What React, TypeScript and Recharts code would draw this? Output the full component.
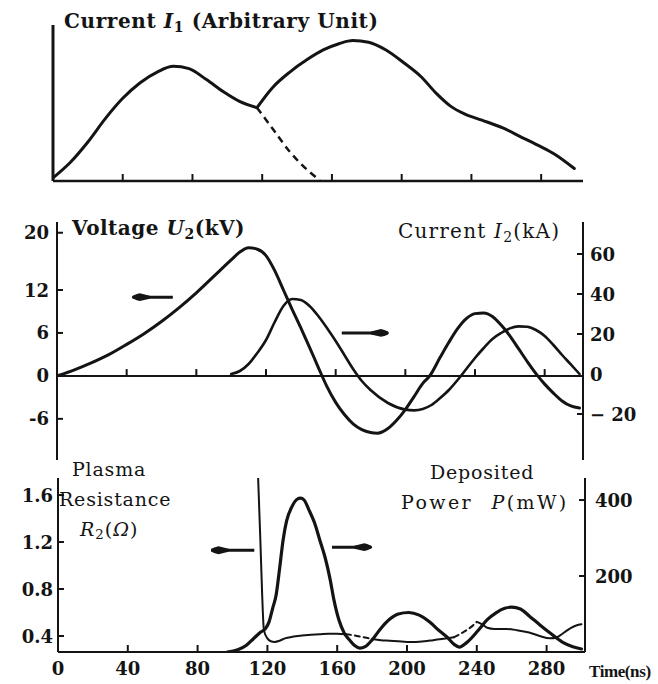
import React from 'react';
import { LineChart, Line, XAxis, YAxis, ReferenceLine } from 'recharts';

const INK = '#141414';
const SERIF = '"DejaVu Serif", "Liberation Serif", serif';

// shared time ticks (ns)
const timeTicks = [40, 80, 120, 160, 200, 240, 280];
const timeLabels = [0, 40, 80, 120, 160, 200, 240, 280];

// top panel: current I1, arbitrary unit
const i1FirstTime = [0, 10, 20, 30, 40, 50, 60, 69, 78, 88, 98, 107, 117];
const i1FirstValue = [0.2, 1.2, 2.5, 4.0, 5.3, 6.3, 7.0, 7.35, 7.2, 6.5, 5.7, 5.1, 4.7];
const i1TailTime = [117, 126, 136, 146, 153];
const i1TailValue = [4.7, 3.35, 1.85, 0.7, 0.05];
const i1SecondTime = [117, 126, 136, 146, 155, 164, 172, 181, 191, 201, 211, 220, 228, 236, 246, 258, 268, 278, 288, 299];
const i1SecondValue = [4.7, 6.0, 7.0, 7.8, 8.4, 8.8, 9.0, 8.9, 8.4, 7.6, 6.7, 5.6, 4.8, 4.3, 3.9, 3.4, 2.85, 2.3, 1.7, 0.8];

// middle panel: voltage U2 (kV) and current I2 (kA)
const u2Time = [0, 10, 20, 30, 40, 50, 60, 70, 80, 90, 100, 105, 110, 115, 120, 125, 130, 135, 140, 145, 150, 155, 160, 165, 170, 175, 180, 184, 190, 195, 200, 205, 210, 214, 220, 225, 230, 235, 240, 245, 250, 255, 260, 265, 270, 276, 280, 285, 290, 295, 300];
const u2Value = [0, 0.85, 1.85, 3.0, 4.4, 5.9, 7.6, 9.5, 11.6, 13.9, 16.2, 17.3, 17.9, 17.7, 16.8, 14.7, 12.0, 9.3, 6.7, 4.0, 1.2, -1.5, -3.7, -5.4, -6.7, -7.5, -7.9, -8.0, -7.35, -6.2, -4.7, -2.9, -1.05, 0, 2.6, 4.7, 6.6, 8.0, 8.7, 8.8, 8.3, 7.1, 5.6, 3.8, 2.0, 0, -1.15, -2.4, -3.5, -4.2, -4.5];
const i2Time = [100, 105, 110, 115, 120, 125, 130, 135, 140, 145, 150, 155, 160, 165, 170, 175, 180, 190, 200, 205, 210, 215, 220, 225, 230, 235, 240, 245, 250, 255, 260, 265, 270, 275, 280, 285, 290, 295, 300];
const i2Value = [0, 1.5, 5, 10.5, 17, 26, 34, 37.5, 37, 34, 29, 23, 16.5, 9.5, 2.5, -3.5, -8, -14.5, -17.8, -18.2, -17.5, -15.5, -12, -8, -3, 2.5, 8, 13, 17.5, 20.5, 22.8, 23.8, 23.6, 22, 19, 14.5, 9.5, 4.8, 0];

// bottom panel: plasma resistance R2 (ohm), split where the trace is dashed
const rSpikeTime = [114.7, 116, 117, 118, 120, 122, 124, 127, 130, 135, 140, 145, 150, 155, 160, 165];
const rSpikeValue = [1.74, 1.2, 0.75, 0.45, 0.38, 0.355, 0.35, 0.36, 0.38, 0.395, 0.405, 0.41, 0.415, 0.42, 0.42, 0.415];
const rGap1Time = [165, 170, 175, 180];
const rGap1Value = [0.415, 0.405, 0.39, 0.375];
const rMidTime = [180, 185, 190, 195, 200, 205, 210, 215, 220, 227];
const rMidValue = [0.375, 0.365, 0.36, 0.355, 0.35, 0.35, 0.355, 0.365, 0.375, 0.39];
const rGap2Time = [227, 232, 237, 240];
const rGap2Value = [0.39, 0.43, 0.48, 0.52];
const rEndTime = [240, 243, 246, 250, 257, 263, 270, 276, 282, 286, 290, 294, 297, 300];
const rEndValue = [0.52, 0.5, 0.47, 0.46, 0.46, 0.45, 0.43, 0.4, 0.38, 0.39, 0.43, 0.47, 0.49, 0.5];

// deposited power P (mW)
const pTime = [97, 103, 108, 112, 116, 119, 121, 123, 125, 127, 129, 131, 134, 137, 139, 141, 144, 147, 150, 153, 156, 158, 161, 164, 167, 170, 173, 176, 180, 185, 190, 195, 201, 207, 213, 218, 223, 227, 230, 234, 241, 246, 251, 256, 260, 265, 270, 276, 282, 289, 295, 300];
const pValue = [0, 6, 18, 35, 52, 62, 80, 115, 150, 220, 295, 345, 382, 402, 405, 400, 372, 340, 295, 250, 190, 140, 84, 50, 32, 17, 10, 14, 32, 62, 86, 100, 104, 97, 79, 58, 39, 20, 13, 24, 58, 85, 103, 115, 118, 113, 95, 72, 50, 26, 14, 8];

const uTicks = [-6, 0, 6, 12, 20];
const iTicks = [-20, 0, 20, 40, 60];
const rTicks = [0.4, 0.8, 1.2, 1.6];
const pTicks = [200, 400];

const zip = (ts: number[], vs: number[]) => ts.map((t, i) => ({ t, v: vs[i] }));

const tickFont = { fontFamily: SERIF, fontWeight: 700, fontSize: 18, fill: INK };

const LeftTick = (props: any) => {
  const { x, y, payload, gap } = props;
  const v = payload.value;
  return (
    <g>
      <line x1={x + gap} y1={y} x2={x + gap + 6} y2={y} stroke={INK} strokeWidth={2} />
      <text x={x} y={y} textAnchor="end" dominantBaseline="central" {...tickFont}>
        {v < 0 ? `-${Math.abs(v)}` : String(v)}
      </text>
    </g>
  );
};

const RightTick = (props: any) => {
  const { x, y, payload, gap } = props;
  const v = payload.value;
  return (
    <g>
      {v !== 0 && <line x1={x - gap} y1={y} x2={x - gap - 6} y2={y} stroke={INK} strokeWidth={2} />}
      <text x={x} y={y} textAnchor="start" dominantBaseline="central" {...tickFont}>
        {v < 0 ? `− ${Math.abs(v)}` : String(v)}
      </text>
    </g>
  );
};

const UpTick = (props: any) => {
  const { x, y, payload, gap, showLabel } = props;
  const v = payload.value;
  return (
    <g>
      {v !== 0 && <line x1={x} y1={y - gap} x2={x} y2={y - gap - 7} stroke={INK} strokeWidth={2} />}
      {showLabel && (
        <text x={x} y={y} textAnchor="middle" dy="0.75em" {...tickFont}>
          {v}
        </text>
      )}
    </g>
  );
};

const arrowShape = (props: any) => (
  <line
    x1={props.x1}
    y1={props.y1}
    x2={props.x2}
    y2={props.y2}
    stroke={INK}
    strokeWidth={3}
    markerEnd="url(#arrowHead)"
  />
);

const curve = { type: 'monotone' as const, dot: false, stroke: INK, isAnimationActive: false, strokeLinecap: 'round' as const, dataKey: 'v' };
const axisStroke = { stroke: INK, strokeWidth: 2 };

const label = (left: number, top: number, size: number, bold: boolean, spacing = 0): React.CSSProperties => ({
  position: 'absolute',
  left,
  top,
  fontFamily: SERIF,
  fontSize: size,
  lineHeight: `${size}px`,
  fontWeight: bold ? 700 : 400,
  letterSpacing: spacing,
  color: INK,
  whiteSpace: 'nowrap',
});

const subStyle: React.CSSProperties = { fontSize: '0.7em', verticalAlign: '-0.25em' };

export default function App() {
  return (
    <div style={{ position: 'absolute', left: 0, top: 0, width: 658, height: 684, background: '#fff', overflow: 'hidden' }}>
      <svg width={0} height={0} style={{ position: 'absolute' }}>
        <defs>
          <marker id="arrowHead" viewBox="0 0 18 9" markerUnits="userSpaceOnUse" markerWidth={18} markerHeight={9} refX={17} refY={4.5} orient="auto">
            <path d="M0,3 L10,0.6 Q18,2.6 18,4.5 Q18,6.4 10,8.4 L0,6 Z" fill={INK} />
          </marker>
        </defs>
      </svg>

      {/* top panel */}
      <div style={{ position: 'absolute', left: 0, top: 0 }}>
        <LineChart width={658} height={200} margin={{ top: 25, right: 75, bottom: 0, left: 0 }}>
          <XAxis
            type="number"
            dataKey="t"
            domain={[0, 304]}
            ticks={timeTicks}
            height={19}
            tickSize={0}
            tickMargin={0}
            tickLine={false}
            tick={<UpTick gap={0} showLabel={false} />}
            axisLine={{ stroke: INK, strokeWidth: 2.5 }}
            allowDataOverflow
          />
          <YAxis type="number" domain={[0, 10]} width={53} tick={false} tickLine={false} axisLine={{ stroke: INK, strokeWidth: 3 }} />
          <Line {...curve} data={zip(i1FirstTime, i1FirstValue)} strokeWidth={3} />
          <Line {...curve} data={zip(i1TailTime, i1TailValue)} strokeWidth={2.5} strokeDasharray="7 5" strokeLinecap="butt" />
          <Line {...curve} data={zip(i1SecondTime, i1SecondValue)} strokeWidth={3} />
        </LineChart>
      </div>

      {/* middle panel */}
      <div style={{ position: 'absolute', left: 0, top: 200 }}>
        <LineChart width={658} height={270} margin={{ top: 22, right: 0, bottom: 10, left: 0 }}>
          <XAxis type="number" dataKey="t" domain={[0, 302]} hide allowDataOverflow />
          <YAxis
            yAxisId="u"
            type="number"
            domain={[-11.75, 21.5]}
            ticks={uTicks}
            width={57}
            tickSize={0}
            tickMargin={8}
            tickLine={false}
            tick={<LeftTick gap={8} />}
            axisLine={axisStroke}
            allowDataOverflow
          />
          <YAxis
            yAxisId="i"
            orientation="right"
            type="number"
            domain={[-43, 76]}
            ticks={iTicks}
            width={75}
            tickSize={0}
            tickMargin={7}
            tickLine={false}
            tick={<RightTick gap={7} />}
            axisLine={axisStroke}
            allowDataOverflow
          />
          <ReferenceLine yAxisId="u" y={0} stroke={INK} strokeWidth={2} />
          {timeTicks.map((t) => (
            <ReferenceLine key={t} yAxisId="u" segment={[{ x: t, y: 0 }, { x: t, y: 0.95 }]} stroke={INK} strokeWidth={2} />
          ))}
          <Line {...curve} yAxisId="u" data={zip(u2Time, u2Value)} strokeWidth={3} />
          <Line {...curve} yAxisId="i" data={zip(i2Time, i2Value)} strokeWidth={2.6} />
          <ReferenceLine yAxisId="u" segment={[{ x: 66.5, y: 11 }, { x: 43.5, y: 11 }]} shape={arrowShape} />
          <ReferenceLine yAxisId="u" segment={[{ x: 163.5, y: 6 }, { x: 190, y: 6 }]} shape={arrowShape} />
        </LineChart>
      </div>

      {/* bottom panel */}
      <div style={{ position: 'absolute', left: 0, top: 470 }}>
        <LineChart width={658} height={214} margin={{ top: 8, right: 0, bottom: 0, left: 0 }}>
          <XAxis
            type="number"
            dataKey="t"
            domain={[0, 302]}
            ticks={timeLabels}
            height={32}
            tickSize={0}
            tickMargin={9}
            tickLine={false}
            tick={<UpTick gap={9} showLabel />}
            axisLine={axisStroke}
            allowDataOverflow
          />
          <YAxis
            yAxisId="r"
            type="number"
            domain={[0.264, 1.745]}
            ticks={rTicks}
            width={58}
            tickSize={0}
            tickMargin={5}
            tickLine={false}
            tick={<LeftTick gap={5} />}
            axisLine={axisStroke}
            allowDataOverflow
          />
          <YAxis
            yAxisId="p"
            orientation="right"
            type="number"
            domain={[0, 458]}
            ticks={pTicks}
            width={73}
            tickSize={0}
            tickMargin={10}
            tickLine={false}
            tick={<RightTick gap={10} />}
            axisLine={axisStroke}
            allowDataOverflow
          />
          <Line {...curve} yAxisId="p" data={zip(pTime, pValue)} strokeWidth={3.2} />
          <Line {...curve} yAxisId="r" data={zip(rSpikeTime, rSpikeValue)} strokeWidth={2} />
          <Line {...curve} yAxisId="r" data={zip(rGap1Time, rGap1Value)} strokeWidth={2} strokeDasharray="5 4" />
          <Line {...curve} yAxisId="r" data={zip(rMidTime, rMidValue)} strokeWidth={2} />
          <Line {...curve} yAxisId="r" data={zip(rGap2Time, rGap2Value)} strokeWidth={2} strokeDasharray="5 4" />
          <Line {...curve} yAxisId="r" data={zip(rEndTime, rEndValue)} strokeWidth={2} />
          <ReferenceLine yAxisId="r" segment={[{ x: 112.5, y: 1.13 }, { x: 88, y: 1.13 }]} shape={arrowShape} />
          <ReferenceLine yAxisId="p" segment={[{ x: 157, y: 276 }, { x: 179.5, y: 276 }]} shape={arrowShape} />
        </LineChart>
      </div>

      {/* texts */}
      <div style={label(64, 11, 20, true, 0.6)}>
        Current <i>I</i><span style={subStyle}>1</span> (Arbitrary Unit)
      </div>
      <div style={label(72, 218, 20, true, 0.5)}>
        Voltage <i>U</i><span style={subStyle}>2</span>(kV)
      </div>
      <div style={label(398, 221, 20, false, 1.2)}>
        Current <i>I</i><span style={subStyle}>2</span>(kA)
      </div>
      <div style={label(72, 460, 19, false, 0.8)}>Plasma</div>
      <div style={label(59, 490, 19, false, 0.8)}>Resistance</div>
      <div style={label(80, 520, 19, false, 1)}>
        <i>R</i><span style={subStyle}>2</span>(<i>Ω</i>)
      </div>
      <div style={label(430, 463, 19, false, 0.8)}>Deposited</div>
      <div style={{ ...label(401, 493, 19, false, 2.4), wordSpacing: 10 }}>
        Power <i>P</i>(mW)
      </div>
      <div style={{ ...label(589, 663, 17, true, -0.4), fontFamily: '"Liberation Serif", serif' }}>Time(ns)</div>
    </div>
  );
}
